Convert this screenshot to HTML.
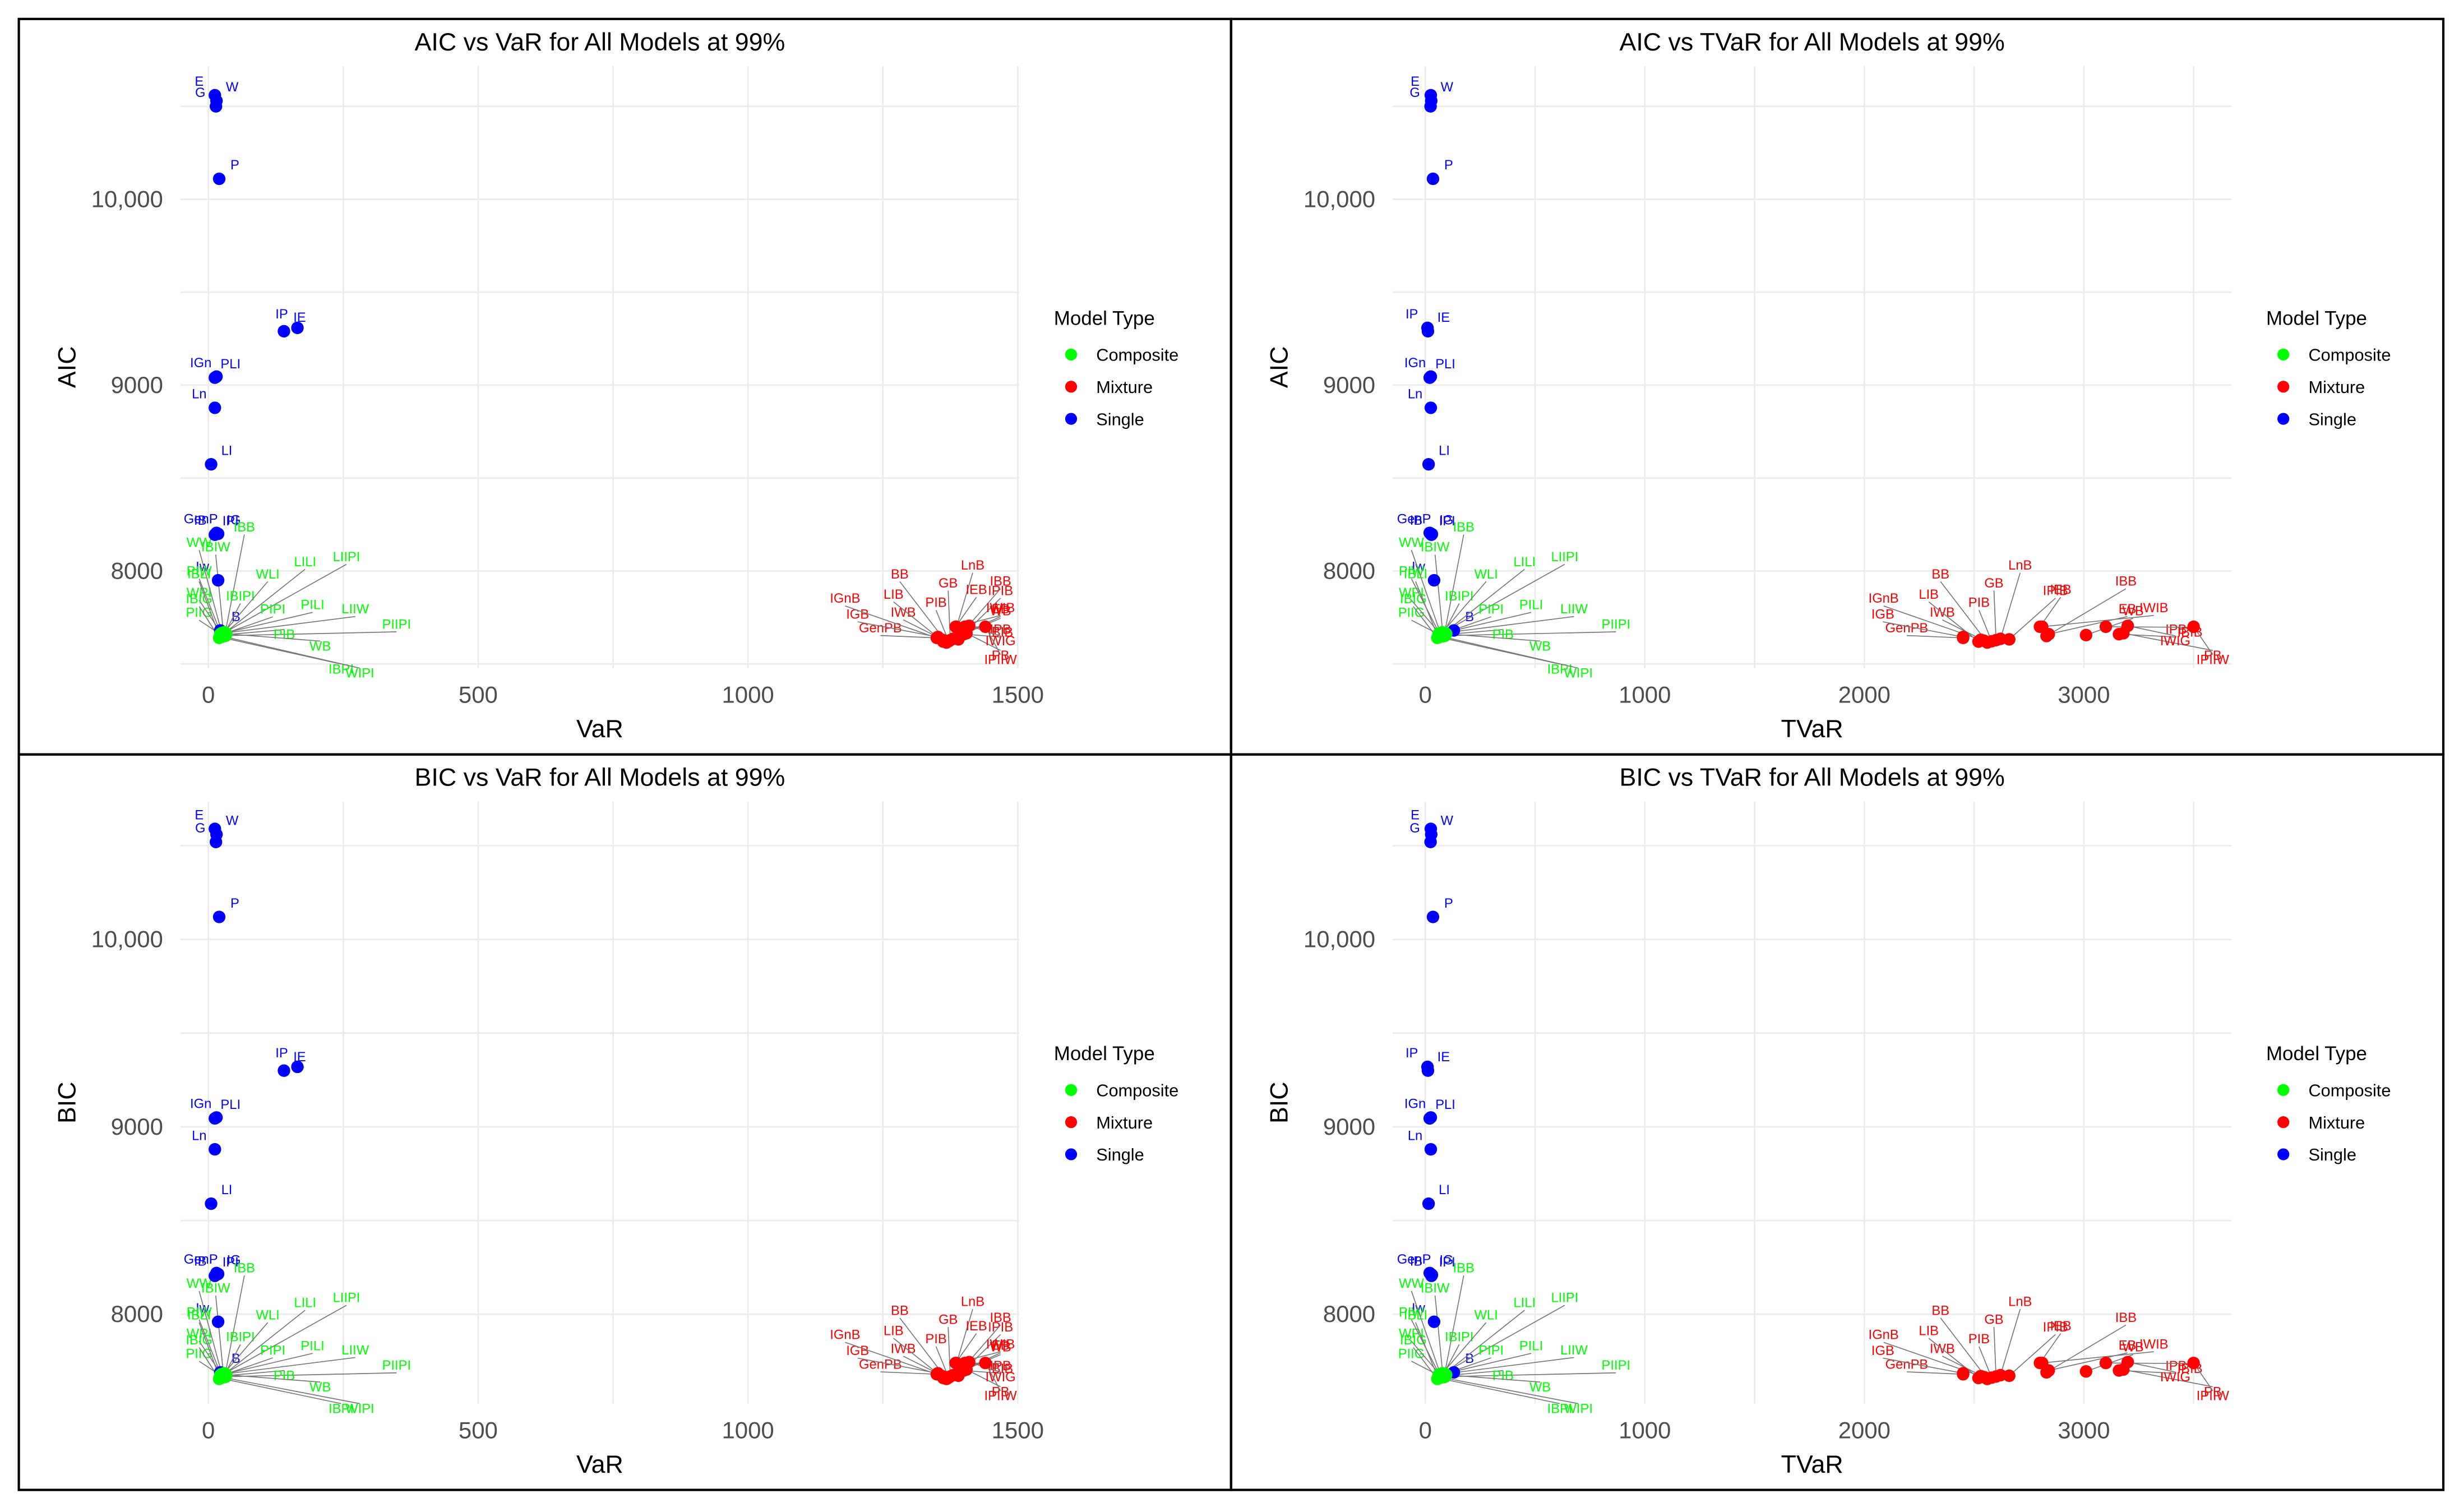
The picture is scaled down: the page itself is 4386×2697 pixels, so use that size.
<!DOCTYPE html>
<html><head><meta charset="utf-8">
<style>
html,body{margin:0;padding:0;background:#fff;}
svg{display:block;font-family:"Liberation Sans",Arial,sans-serif;}
</style></head>
<body>
<svg id="chart" width="4386" height="2697" viewBox="0 0 1568 964" xmlns="http://www.w3.org/2000/svg">
<rect x="0" y="0" width="1568" height="964" fill="#fff"/>
</svg>
<script>
// ---------- data ----------
const singleNames = ["E","W","G","P","IP","IE","IGn","PLI","Ln","LI","GenP","IG","IB","IPI","Iw","B"];
const singleVaR   = [12,15,14,20,165,140,15,12,12,5,15,18,14,12,18,22];
const singleTVaR  = [25,27,24,35,10,12,25,20,25,15,20,25,30,28,40,130];
const singleAIC   = [10560,10530,10500,10110,9308,9290,9046,9040,8878,8574,8205,8200,8198,8195,7950,7680];
const singleBIC   = [10590,10560,10520,10120,9320,9300,9050,9045,8880,8590,8220,8215,8210,8205,7960,7690];

const compNames = ["PIIG","WPI","PIW","WW","IBIG","IBLI","IBIW","IBB","IBIPI","WLI","LILI","LIIPI","PIPI","PILI","LIIW","PIIPI","PIB","WB","IBPI","WIPI"];
const compVaR   = [22,24,25,26,20,21,28,30,27,29,31,26,25,27,30,32,28,33,22,24];
const compTVaR  = [60,65,70,72,55,58,80,85,75,78,88,70,68,74,82,90,77,95,62,66];
const compAIC   = [7660,7665,7650,7655,7640,7645,7660,7650,7648,7670,7668,7662,7658,7664,7666,7652,7656,7662,7644,7650];
const compBIC   = [7675,7680,7665,7670,7655,7660,7675,7665,7663,7685,7683,7677,7673,7679,7681,7667,7671,7677,7659,7665];

const mixNames = ["GenPB","IGB","IGnB","IWB","LIB","BB","PIB","GB","LnB","IEB","IPIB","IBB","WB","EB","IWIB","IPB","IBIB","PB","IWIG","IPIIW"];
const mixVaR   = [1350,1352,1360,1365,1362,1368,1372,1375,1380,1385,1390,1392,1395,1398,1386,1400,1402,1405,1410,1440];
const mixTVaR  = [2450,2450,2530,2545,2520,2560,2580,2600,2620,2800,2660,2830,3010,2840,2810,3160,3100,3180,3200,3500];
const mixAIC   = [7640,7645,7630,7625,7620,7615,7622,7628,7635,7700,7632,7650,7655,7660,7700,7660,7700,7665,7705,7700];
const mixBIC   = [7680,7685,7670,7665,7660,7655,7662,7668,7675,7740,7672,7690,7695,7700,7740,7700,7740,7705,7745,7740];

const yTicks = [8000,9000,10000];
const yTickLabels = ["8000","9000","10,000"];
const varTicks = [0,500,1000,1500];
const tvarTicks = [0,1000,2000,3000];

// ---------- layout ----------
const NS = "http://www.w3.org/2000/svg";
const svg = document.getElementById("chart");
function el(tag, attrs, parent){
  const e = document.createElementNS(NS, tag);
  for (const k in attrs) e.setAttribute(k, attrs[k]);
  (parent||svg).appendChild(e);
  return e;
}
const panels = [
  {x0:12,y0:12,title:"AIC vs VaR for All Models at 99%",xl:"VaR",yl:"AIC",xd:[-52,1503],yd:[7477,10717],xt:varTicks,xminor:250,
   sx:singleVaR,sy:singleAIC,cx:compVaR,cy:compAIC,mx:mixVaR,my:mixAIC,key:"aic-var"},
  {x0:785,y0:12,title:"AIC vs TVaR for All Models at 99%",xl:"TVaR",yl:"AIC",xd:[-149,3673],yd:[7477,10717],xt:tvarTicks,xminor:500,
   sx:singleTVaR,sy:singleAIC,cx:compTVaR,cy:compAIC,mx:mixTVaR,my:mixAIC,key:"aic-tvar"},
  {x0:12,y0:481,title:"BIC vs VaR for All Models at 99%",xl:"VaR",yl:"BIC",xd:[-52,1503],yd:[7523,10736],xt:varTicks,xminor:250,
   sx:singleVaR,sy:singleBIC,cx:compVaR,cy:compBIC,mx:mixVaR,my:mixBIC,key:"bic-var"},
  {x0:785,y0:481,title:"BIC vs TVaR for All Models at 99%",xl:"TVaR",yl:"BIC",xd:[-149,3673],yd:[7523,10736],xt:tvarTicks,xminor:500,
   sx:singleTVaR,sy:singleBIC,cx:compTVaR,cy:compBIC,mx:mixTVaR,my:mixBIC,key:"bic-tvar"}
];
const PL=103, PR=638, PT=30, PB=414;
const COL = {single:"#0000ff", comp:"#00ff00", mix:"#ff0000"};

panels.forEach(p=>{
  const g = el("g",{transform:`translate(${p.x0},${p.y0})`});
  
  
  const border = el("rect",{x:0,y:0,width:773,height:469,fill:"none",stroke:"#000","stroke-width":1.5},g);
  
  
  const X = v => PL + (v-p.xd[0])/(p.xd[1]-p.xd[0])*(PR-PL);
  const Y = v => PB - (v-p.yd[0])/(p.yd[1]-p.yd[0])*(PB-PT);
  const gg = el("g",{},g);
  
  
  for (let v=Math.ceil(p.yd[0]/500)*500; v<=p.yd[1]; v+=500)
    el("line",{x1:PL,x2:PR,y1:Y(v),y2:Y(v),stroke:"#ebebeb","stroke-width":1},gg);
  for (let v=Math.ceil(p.xd[0]/p.xminor)*p.xminor; v<=p.xd[1]; v+=p.xminor)
    el("line",{x1:X(v),x2:X(v),y1:PT,y2:PB,stroke:"#ebebeb","stroke-width":1},gg);
  yTicks.forEach((v,i)=>{
    const t = el("text",{x:PL-11,y:Y(v)+5,"text-anchor":"end","font-size":15,fill:"#4d4d4d"},g);
    t.textContent = yTickLabels[i];
    
    
  });
  p.xt.forEach(v=>{
    const t = el("text",{x:X(v),y:436,"text-anchor":"middle","font-size":15,fill:"#4d4d4d"},g);
    t.textContent = String(v);
    
    
  });
  const tt = el("text",{x:(PL+PR)/2,y:20,"text-anchor":"middle","font-size":16,fill:"#000"},g);
  tt.textContent = p.title;
  
  
  const xt = el("text",{x:(PL+PR)/2,y:458,"text-anchor":"middle","font-size":16,fill:"#000"},g);
  xt.textContent = p.xl;
  
  
  const yt = el("text",{x:0,y:0,"text-anchor":"middle","font-size":16,fill:"#000",transform:`translate(36,${(PT+PB)/2}) rotate(-90)`},g);
  yt.textContent = p.yl;
  
  

  const lg = el("g",{},g);
  const pg = el("g",{},g);
  function drawSet(names, xs, ys, color, mode, setName){
    const n = names.length;
    names.forEach((nm,i)=>{
      const px = X(xs[i]), py = Y(ys[i]);
      let lx, ly;
      if (mode==="single"){
        const side = i%2===0 ? -1 : 1;
        lx = px + side*10; ly = py - 6;
      } else {
        let a, r;
        if (mode==="comp"){
          a = -Math.PI*0.85 + (i/(n-1))*Math.PI*1.05;
          r = 30 + (i%4)*18;
        } else {
          a = -Math.PI*0.95 + (i/(n-1))*Math.PI*1.2;
          r = 28 + (i%3)*14;
        }
        lx = px + Math.cos(a)*r*1.3;
        ly = py + Math.sin(a)*r*0.8;
        lx = Math.max(PL+12, Math.min(PR-12, lx));
        ly = Math.max(PT+10, Math.min(PB+6, ly));
        const ln = el("line",{x1:px,y1:py,x2:lx,y2:ly+(ly<py?2:-6),stroke:"#777","stroke-width":0.6},lg);
        
        
      }
      const t = el("text",{x:lx,y:ly,"text-anchor":"middle","font-size":8.5,fill:color},lg);
      t.textContent = nm;
      
      
      const c = el("circle",{cx:px,cy:py,r:4,fill:color},pg);
      
      
    });
  }
  drawSet(mixNames, p.mx, p.my, COL.mix, "mix", "mixture");
  drawSet(singleNames, p.sx, p.sy, COL.single, "single", "single");
  drawSet(compNames, p.cx, p.cy, COL.comp, "comp", "composite");

  const leg = el("g",{},g);
  
  
  const lt = el("text",{x:660,y:195,"font-size":12.5,fill:"#000"},leg);
  lt.textContent = "Model Type";
  
  
  [["Composite",COL.comp],["Mixture",COL.mix],["Single",COL.single]].forEach((e,i)=>{
    const c = el("circle",{cx:671,cy:214+i*20.5,r:3.8,fill:e[1]},leg);
    
    
    const t = el("text",{x:687,y:218+i*20.5,"font-size":11,fill:"#000"},leg);
    t.textContent = e[0];
    
    
  });
});
</script>
</body></html>
